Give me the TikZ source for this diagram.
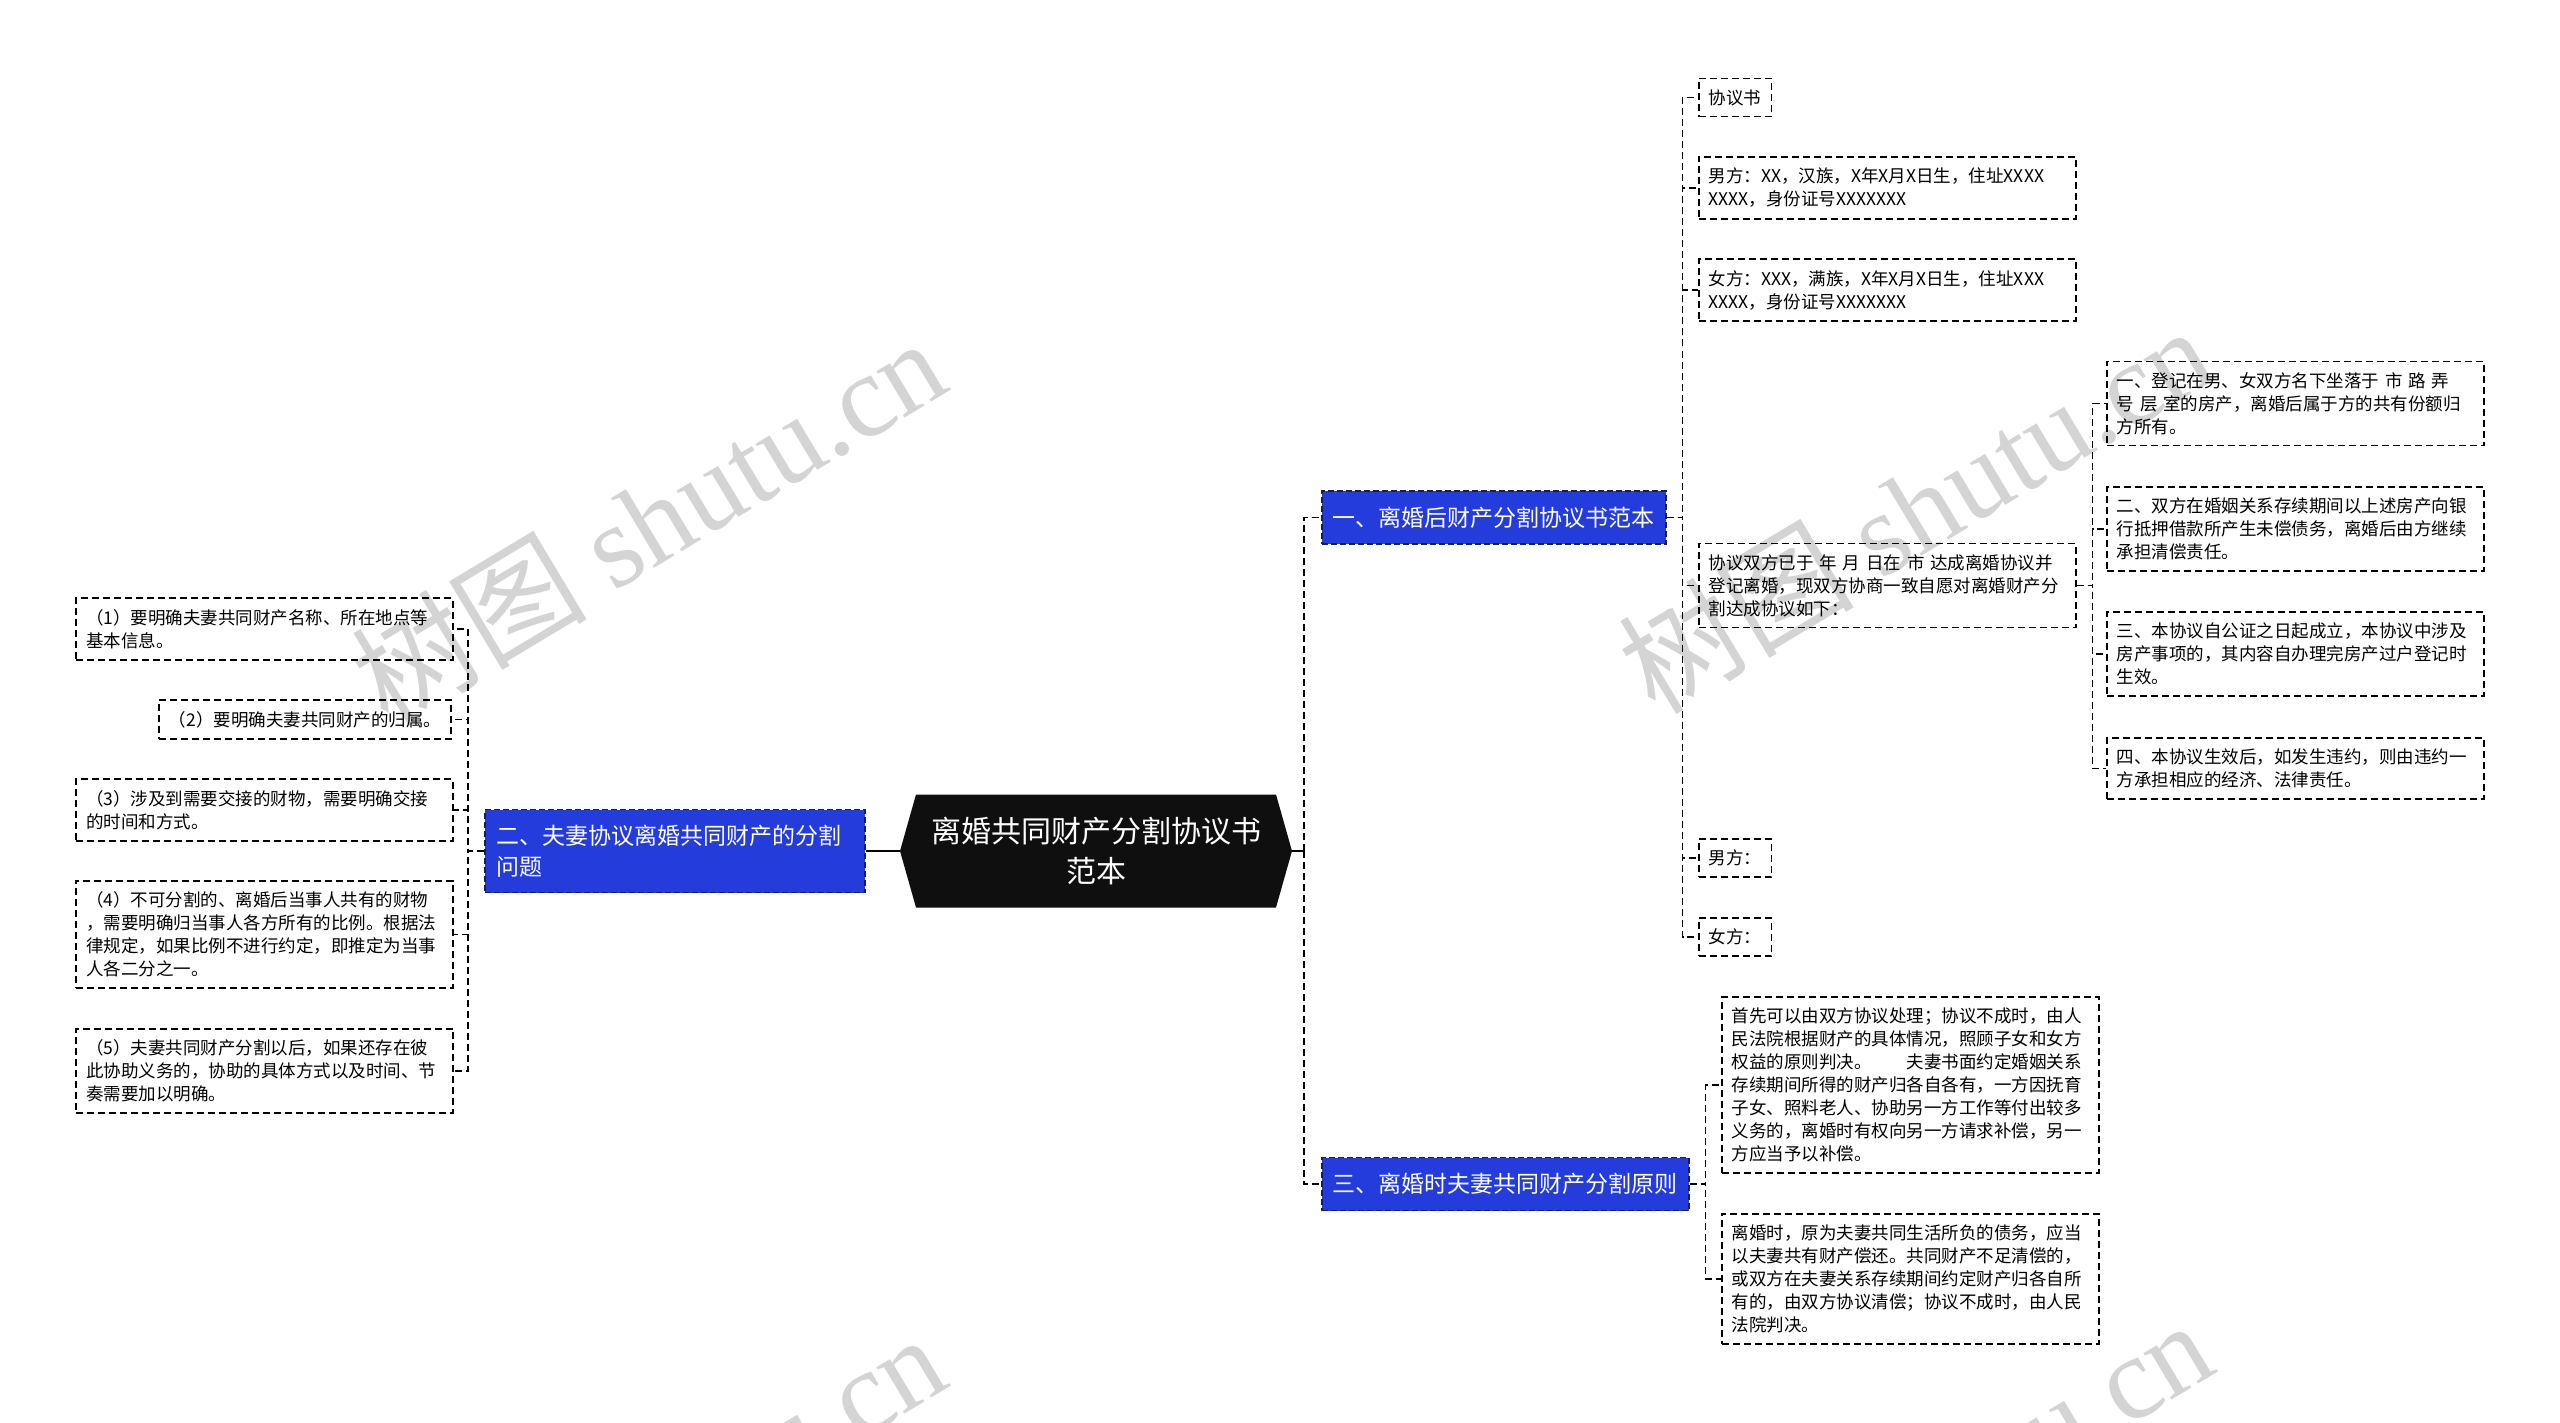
\documentclass[tikz,border=0pt]{standalone}
\usepackage{fontspec}
\setmainfont{Noto Sans CJK SC}
\newfontfamily\wmserif{Liberation Serif}
\usetikzlibrary{calc}
\definecolor{brandblue}{RGB}{36,60,219}
\definecolor{navyline}{RGB}{20,30,90}
\definecolor{wmgray}{RGB}{212,212,212}
\definecolor{cnodefill}{RGB}{15,15,15}
\newcommand{\leafsize}{\fontsize{17.5pt}{23pt}\selectfont}
\newcommand{\branchsize}{\fontsize{23pt}{31pt}\selectfont}
\newcommand{\rootsize}{\fontsize{30pt}{40pt}\selectfont}
\newcommand{\wmsize}{\fontsize{118pt}{118pt}\selectfont}
\begin{document}
\begin{tikzpicture}[x=1pt,y=-1pt,
  leaf/.style={draw=black, line width=1.6pt, dash pattern=on 7pt off 4pt, font=\leafsize, align=left, inner xsep=10pt, inner ysep=11pt},
  wideleaf/.style={leaf, text width=357pt},
  branchbox/.style={fill=brandblue, draw=navyline, line width=1.6pt, dash pattern=on 6pt off 3pt, text=white, font=\branchsize, align=left, inner xsep=11pt, inner ysep=0pt, minimum height=53pt},
  link/.style={draw=black, line width=1.6pt, dash pattern=on 7pt off 4pt},
  rootlink/.style={draw=black, line width=2.2pt},
  watermark/.style={text=wmgray, rotate=31, inner sep=0pt, font=\wmsize},
  rootnode/.style={text=white, font=\rootsize, align=center, minimum width=392pt, minimum height=113pt, inner sep=0pt,
    path picture={\fill[cnodefill] (path picture bounding box.west) -- ([xshift=16pt]path picture bounding box.north west) -- ([xshift=-16pt]path picture bounding box.north east) -- (path picture bounding box.east) -- ([xshift=-16pt]path picture bounding box.south east) -- ([xshift=16pt]path picture bounding box.south west) -- cycle;}}
]
\useasboundingbox (0,0) rectangle (2560,1423);
\clip (0,0) rectangle (2560,1423);
\fill[white] (0,0) rectangle (2560,1423);

% watermarks
\node[watermark] (wm1) at (648,520) {树图 {\wmserif shutu.cn}};
\node[watermark] (wm2) at (1915,508) {树图 {\wmserif shutu.cn}};
\node[watermark] (wm3) at (648,1516) {树图 {\wmserif shutu.cn}};
\node[watermark] (wm4) at (1915,1502) {树图 {\wmserif shutu.cn}};

% root
\node[rootnode] (root) at (1096,851) {离婚共同财产分割协议书\\范本};

% left branch
\node[branchbox, text width=358pt, minimum height=83pt] (LB) at (675,851) {二、夫妻协议离婚共同财产的分割\\问题};
\node[wideleaf] (L1) at (264.5,629) {（1）要明确夫妻共同财产名称、所在地点等\\基本信息。};
\node[leaf, anchor=east] (L2) at (452,719.5) {（2）要明确夫妻共同财产的归属。};
\node[wideleaf] (L3) at (264.5,810) {（3）涉及到需要交接的财物，需要明确交接\\的时间和方式。};
\node[wideleaf] (L4) at (264.5,934.5) {（4）不可分割的、离婚后当事人共有的财物\\，需要明确归当事人各方所有的比例。根据法\\律规定，如果比例不进行约定，即推定为当事\\人各二分之一。};
\node[wideleaf] (L5) at (264.5,1071) {（5）夫妻共同财产分割以后，如果还存在彼\\此协助义务的，协助的具体方式以及时间、节\\奏需要加以明确。};

% right branches
\node[branchbox, anchor=west] (B1) at (1321,517.5) {一、离婚后财产分割协议书范本};
\node[branchbox, anchor=west] (B3) at (1321,1184) {三、离婚时夫妻共同财产分割原则};

\node[leaf, anchor=west] (R1) at (1698,97.5) {协议书};
\node[wideleaf, anchor=west] (R2) at (1698,188) {男方：XX，汉族，X年X月X日生，住址XXXX\\XXXX，身份证号XXXXXXX};
\node[wideleaf, anchor=west] (R3) at (1698,290) {女方：XXX，满族，X年X月X日生，住址XXX\\XXXX，身份证号XXXXXXX};
\node[wideleaf, anchor=west] (R4) at (1698,585.5) {协议双方已于~年~月~日在~市~达成离婚协议并\\登记离婚，现双方协商一致自愿对离婚财产分\\割达成协议如下：};
\node[leaf, anchor=west] (R5) at (1698,858) {男方：};
\node[leaf, anchor=west] (R6) at (1698,937) {女方：};

\node[wideleaf, anchor=west] (Q1) at (2106,403.5) {一、登记在男、女双方名下坐落于~市~路~弄\\号~层~室的房产，离婚后属于方的共有份额归\\方所有。};
\node[wideleaf, anchor=west] (Q2) at (2106,529) {二、双方在婚姻关系存续期间以上述房产向银\\行抵押借款所产生未偿债务，离婚后由方继续\\承担清偿责任。};
\node[wideleaf, anchor=west] (Q3) at (2106,654) {三、本协议自公证之日起成立，本协议中涉及\\房产事项的，其内容自办理完房产过户登记时\\生效。};
\node[wideleaf, anchor=west] (Q4) at (2106,768.5) {四、本协议生效后，如发生违约，则由违约一\\方承担相应的经济、法律责任。};

\node[wideleaf, anchor=west] (T1) at (1721,1085) {首先可以由双方协议处理；协议不成时，由人\\民法院根据财产的具体情况，照顾子女和女方\\权益的原则判决。\hspace*{2em}夫妻书面约定婚姻关系\\存续期间所得的财产归各自各有，一方因抚育\\子女、照料老人、协助另一方工作等付出较多\\义务的，离婚时有权向另一方请求补偿，另一\\方应当予以补偿。};
\node[wideleaf, anchor=west] (T2) at (1721,1279) {离婚时，原为夫妻共同生活所负的债务，应当\\以夫妻共有财产偿还。共同财产不足清偿的，\\或双方在夫妻关系存续期间约定财产归各自所\\有的，由双方协议清偿；协议不成时，由人民\\法院判决。};

% connectors
\draw[rootlink] (LB.east) -- (root.west);
\coordinate (jL) at ([xshift=-16pt]LB.west);
\foreach \c in {L1,L2,L3,L4,L5} \draw[link] (LB.west) -- (jL) |- (\c.east);

\coordinate (jR) at ([xshift=12pt]root.east);
\draw[rootlink] (root.east) -- (jR);
\foreach \c in {B1,B3} \draw[link] (jR) |- (\c.west);

\coordinate (j1) at ([xshift=16pt]B1.east);
\foreach \c in {R1,R2,R3,R4,R5,R6} \draw[link] (B1.east) -- (j1) |- (\c.west);

\coordinate (jQ) at ([xshift=16pt]R4.east);
\foreach \c in {Q1,Q2,Q3,Q4} \draw[link] (R4.east) -- (jQ) |- (\c.west);

\coordinate (j3) at ([xshift=16pt]B3.east);
\foreach \c in {T1,T2} \draw[link] (B3.east) -- (j3) |- (\c.west);
\end{tikzpicture}
\end{document}
